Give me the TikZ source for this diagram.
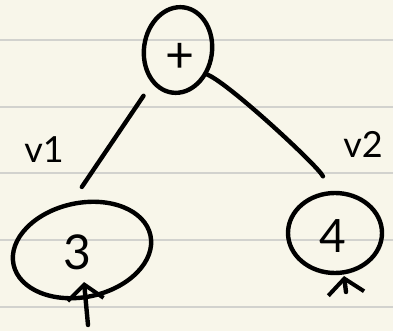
\documentclass[tikz,border=0pt]{standalone}
\usepackage{fontspec}
\setmainfont{Lato}
\usetikzlibrary{shapes.geometric,arrows.meta}
\definecolor{paper}{HTML}{F8F6EA}
\definecolor{rule}{HTML}{D2D2CE}
\tikzset{
  pen/.style={line width=4.4pt, line cap=round, line join=round, black},
  tnode/.style={ellipse, draw, pen, inner sep=0pt},
  lab/.style={font=\fontsize{36}{36}\selectfont, inner sep=0pt},
  sym/.style={font=\fontsize{#1}{#1}\selectfont, inner sep=0pt},
  tip/.style={-{Straight Barb[length=15pt, width=36pt, line width=4pt]}}
}
\begin{document}
\begin{tikzpicture}[x=1pt,y=-1pt]
\useasboundingbox (0,0) rectangle (393,331);
\fill[paper] (0,0) rectangle (393,331);
\foreach \yy in {40,107,173,240,307} \draw[rule, line width=2pt] (0,\yy) -- (393,\yy);

\node[tnode, minimum width=68pt, minimum height=86pt, rotate=-8] (plus) at (178,50) {};
\node[sym=50] (plussym) at (180,58) {+};
\node[tnode, minimum width=140pt, minimum height=94pt, rotate=12] (n3) at (82,250) {};
\node[sym=48] (three) at (77,252) {3};
\node[tnode, minimum width=94pt, minimum height=80pt] (n4) at (335,233) {};
\node[sym=46] (four) at (333,236) {4};

\node[lab] (v1) at (44,150) {v1};
\node[lab] (v2) at (363,144) {v2};

\draw[pen, shorten <=15pt, shorten >=18pt] (plus.240) -- (n3.north);
\draw[pen, shorten >=16pt] (plus.-32) .. controls +(22,9) and +(-10,-24) .. (n4.98);

\coordinate (in3) at (88,325);
\coordinate (in4) at (346,292);
\draw[pen, tip] (in3) -- (84,282);
\draw[pen, tip] (in4) -- (344,276);
\end{tikzpicture}
\end{document}
